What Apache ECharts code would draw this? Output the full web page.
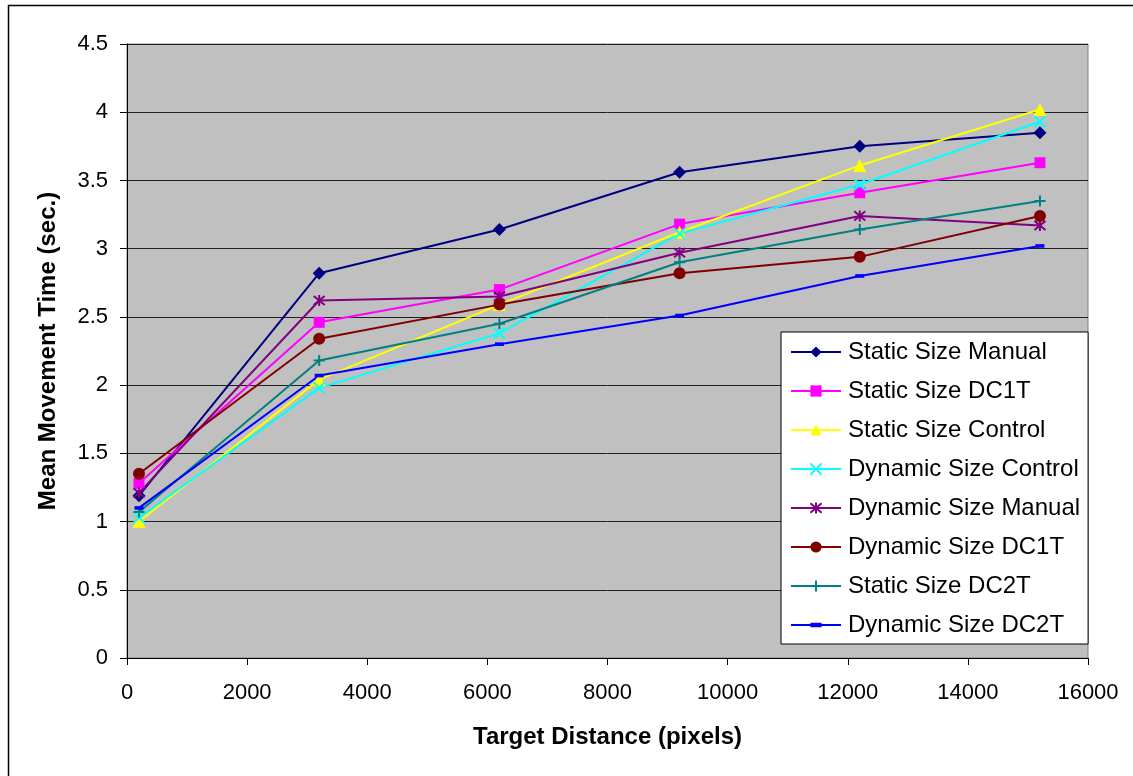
<!DOCTYPE html>
<html>
<head>
<meta charset="utf-8">
<script src="https://cdn.jsdelivr.net/npm/echarts@6/dist/echarts.min.js"></script>
<style>
  html, body { margin: 0; padding: 0; background: #fff; }
  #chart { width: 1133px; height: 776px; }
</style>
</head>
<body>
<div id="chart"></div>
<script>
// Target distances (pixels) at which movement time was measured
const distances = [200, 3200, 6200, 9200, 12200, 15200];

// Mean movement time (sec.) per condition
const staticSizeManual   = [1.19, 2.82, 3.14, 3.56, 3.75, 3.85];
const staticSizeDC1T     = [1.28, 2.46, 2.70, 3.18, 3.41, 3.63];
const staticSizeControl  = [1.00, 2.04, 2.59, 3.12, 3.61, 4.02];
const dynamicSizeControl = [1.03, 1.98, 2.38, 3.11, 3.47, 3.93];
const dynamicSizeManual  = [1.21, 2.62, 2.65, 2.97, 3.24, 3.17];
const dynamicSizeDC1T    = [1.35, 2.34, 2.59, 2.82, 2.94, 3.24];
const staticSizeDC2T     = [1.07, 2.18, 2.45, 2.90, 3.14, 3.35];
const dynamicSizeDC2T    = [1.10, 2.07, 2.30, 2.51, 2.80, 3.02];

const seriesNames = [
  'Static Size Manual', 'Static Size DC1T', 'Static Size Control',
  'Dynamic Size Control', 'Dynamic Size Manual', 'Dynamic Size DC1T',
  'Static Size DC2T', 'Dynamic Size DC2T'
];

const FONT = '"Liberation Sans", Arial, sans-serif';

// Marker shapes (stroked paths for the cross-like markers)
const X_MARK = 'path://M0,0L10,10M10,0L0,10';
const STAR_MARK = 'path://M0,0L10,10M10,0L0,10M5,-1L5,11';
const PLUS_MARK = 'path://M5,0L5,10M0,5L10,5';
// short horizontal bar inside a square 10x10 box so it never gets stretched
const DASH_MARK = 'path://M0,-3M0,0L10,0L10,4L0,4ZM10,7';

function pairs(values) {
  return distances.map((d, i) => [d, values[i]]);
}

function lineSeries(name, values, color, symbol, size, stroked) {
  return {
    name: name,
    type: 'line',
    data: pairs(values),
    symbol: symbol,
    symbolSize: size,
    showSymbol: true,
    lineStyle: { color: color, width: 2 },
    itemStyle: stroked
      ? { color: color, borderColor: color, borderWidth: 2 }
      : { color: color, borderWidth: 0 },
    emphasis: { disabled: true },
    animation: false
  };
}

const chart = echarts.init(document.getElementById('chart'));

chart.setOption({
  backgroundColor: '#ffffff',
  animation: false,
  textStyle: { fontFamily: FONT },
  graphic: [{
    type: 'rect',
    shape: { x: 8.5, y: 5.5, width: 1200, height: 900 },
    style: { fill: 'none', stroke: '#000', lineWidth: 1.5 },
    silent: true,
    z: -10
  }],
  grid: {
    left: 127, top: 44, right: 45, bottom: 118,
    show: true,
    backgroundColor: '#C0C0C0',
    borderColor: '#808080',
    borderWidth: 1
  },
  legend: {
    orient: 'vertical',
    left: 781,
    top: 332,
    padding: [8, 8, 7, 9],
    itemGap: 15,
    itemWidth: 50,
    itemHeight: 14,
    backgroundColor: '#ffffff',
    borderColor: '#000',
    borderWidth: 1,
    selectedMode: false,
    textStyle: { fontFamily: FONT, fontSize: 24, color: '#000', padding: [0, 0, 0, 2] },
    data: seriesNames
  },
  xAxis: {
    type: 'value',
    min: 0, max: 16000, interval: 2000,
    name: 'Target Distance (pixels)',
    nameLocation: 'middle',
    nameGap: 67,
    nameTextStyle: { fontFamily: FONT, fontSize: 24, fontWeight: 'bold', color: '#000' },
    axisLine: { show: true, lineStyle: { color: '#000', width: 1 } },
    axisTick: { show: true, inside: false, length: 7, lineStyle: { color: '#000' } },
    axisLabel: {
      fontFamily: FONT, fontSize: 22, color: '#000', margin: 24,
      formatter: (v) => String(v)
    },
    splitLine: { show: false }
  },
  yAxis: {
    type: 'value',
    min: 0, max: 4.5, interval: 0.5,
    name: 'Mean Movement Time (sec.)',
    nameLocation: 'middle',
    nameGap: 67,
    nameRotate: 90,
    nameTextStyle: { fontFamily: FONT, fontSize: 24, fontWeight: 'bold', color: '#000' },
    axisLine: { show: true, lineStyle: { color: '#000', width: 1 } },
    axisTick: { show: true, inside: false, length: 7, lineStyle: { color: '#000' } },
    axisLabel: { fontFamily: FONT, fontSize: 22, color: '#000', margin: 19 },
    splitLine: { show: true, lineStyle: { color: '#202020', width: 1 } }
  },
  series: [
    lineSeries(seriesNames[0], staticSizeManual,   '#000080', 'diamond',  13, false),
    lineSeries(seriesNames[1], staticSizeDC1T,     '#FF00FF', 'rect',     11, false),
    lineSeries(seriesNames[2], staticSizeControl,  '#FFFF00', 'triangle', 13, false),
    lineSeries(seriesNames[3], dynamicSizeControl, '#00FFFF', X_MARK,     11, true),
    lineSeries(seriesNames[4], dynamicSizeManual,  '#800080', STAR_MARK,  11, true),
    lineSeries(seriesNames[5], dynamicSizeDC1T,    '#800000', 'circle',   12, false),
    lineSeries(seriesNames[6], staticSizeDC2T,     '#008080', PLUS_MARK,  11, true),
    lineSeries(seriesNames[7], dynamicSizeDC2T,    '#0000FF', DASH_MARK,  9,  false)
  ]
});
</script>
</body>
</html>
